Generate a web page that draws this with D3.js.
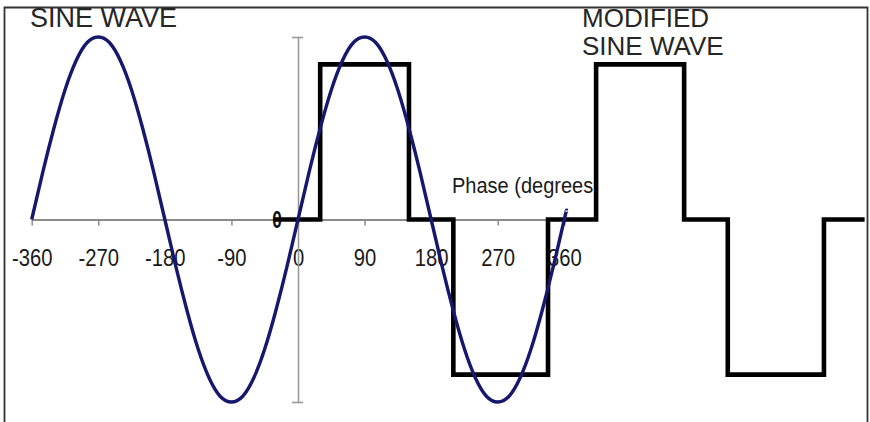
<!DOCTYPE html>
<html>
<head>
<meta charset="utf-8">
<script src="https://cdn.jsdelivr.net/npm/d3@7"></script>
<style>
  html, body { margin: 0; padding: 0; background: #fff; }
  svg { display: block; }
  text { font-family: "Liberation Sans", Arial, sans-serif; }
</style>
</head>
<body>
<svg id="chart" width="870" height="422"></svg>
<script>
// ---- data ----
const xTickValues = [-360, -270, -180, -90, 0, 90, 180, 270, 360];
const sineDegrees = [-360,-345,-330,-315,-300,-285,-270,-255,-240,-225,-210,-195,-180,-165,-150,-135,-120,-105,-90,-75,-60,-45,-30,-15,0,15,30,45,60,75,90,105,120,135,150,165,180,195,210,225,240,255,270,285,300,315,330,345,360,363];
const sineValues  = [0,0.26,0.5,0.71,0.87,0.97,1,0.97,0.87,0.71,0.5,0.26,0,-0.26,-0.5,-0.71,-0.87,-0.97,-1,-0.97,-0.87,-0.71,-0.5,-0.26,0,0.26,0.5,0.71,0.87,0.97,1,0.97,0.87,0.71,0.5,0.26,0,-0.26,-0.5,-0.71,-0.87,-0.97,-1,-0.97,-0.87,-0.71,-0.5,-0.26,0,0.05];
const stepDegrees = [-33, 30, 150, 210, 338, 403, 522, 581, 711, 766];
const stepLevels  = [0, 0.85, 0, -0.85, 0, 0.85, 0, -0.85, 0, 0];
const titleLeft = "SINE WAVE";
const titleRight = ["MODIFIED", "SINE WAVE"];
const axisTitle = "Phase (degrees";
const yZeroLabel = "0";

// ---- scales ----
const svg = d3.select("#chart");
const x = d3.scaleLinear().domain([-360, 360]).range([31.7, 564.3]);
const y = d3.scaleLinear().domain([-1, 1]).range([402, 37]);

// frame (left, top, right)
svg.append("path")
  .attr("d", "M4.5,422 L4.5,7.5 L867.5,7.5 L867.5,422")
  .attr("fill", "none").attr("stroke", "#333").attr("stroke-width", 1.8);

// titles
svg.append("text").attr("x", 30).attr("y", 27).attr("font-size", 27)
  .attr("fill", "#262626").text(titleLeft);
svg.append("text").attr("x", 582).attr("y", 27).attr("font-size", 26)
  .attr("fill", "#262626").text(titleRight[0]);
svg.append("text").attr("x", 582).attr("y", 55).attr("font-size", 26)
  .attr("fill", "#262626").text(titleRight[1]);

// x axis
const xAxis = svg.append("g")
  .attr("transform", `translate(0,${y(0)})`)
  .call(d3.axisBottom(x).tickValues(xTickValues).tickFormat(d => String(d))
    .tickSize(6).tickSizeOuter(0));
xAxis.select(".domain").attr("stroke", "#8a8a8a").attr("stroke-width", 2);
xAxis.selectAll(".tick line").attr("stroke", "#8a8a8a").attr("stroke-width", 1.5);
xAxis.selectAll(".tick text")
  .attr("y", 47).attr("dy", 0)
  .attr("font-size", 23).attr("fill", "#1a1a1a")
  .attr("font-family", "'Liberation Sans', Arial, sans-serif")
  .attr("transform", "scale(0.88,1)");

// y axis
const yAxis = svg.append("g")
  .attr("transform", `translate(${x(0)},0)`)
  .call(d3.axisLeft(y).tickValues([-1, 1]).tickFormat("").tickSize(6).tickSizeOuter(0));
yAxis.select(".domain").attr("stroke", "#9a9a9a").attr("stroke-width", 1.6);
yAxis.selectAll(".tick line").attr("x1", 5).attr("x2", -6)
  .attr("stroke", "#9a9a9a").attr("stroke-width", 1.6);

// y zero label
svg.append("text")
  .attr("transform", `translate(${x(0) - 21},${y(0) + 8}) scale(0.75,1)`)
  .attr("text-anchor", "middle").attr("font-size", 23).attr("fill", "#111")
  .attr("font-weight", "bold")
  .text(yZeroLabel);

// axis title
svg.append("text")
  .attr("transform", `translate(452,193) scale(0.91,1)`)
  .attr("font-size", 22).attr("fill", "#1a1a1a")
  .text(axisTitle);

// modified sine wave (square steps)
const stepData = stepDegrees.map((d, i) => ({ d, v: stepLevels[i] }));
svg.append("path")
  .datum(stepData)
  .attr("fill", "none").attr("stroke", "#000").attr("stroke-width", 4.6)
  .attr("stroke-linejoin", "miter")
  .attr("d", d3.line().x(p => x(p.d)).y(p => y(p.v)).curve(d3.curveStepAfter));

// sine wave
const sineData = sineDegrees.map((d, i) => ({ d, v: sineValues[i] }));
svg.append("path")
  .datum(sineData)
  .attr("fill", "none").attr("stroke", "#16186e").attr("stroke-width", 3.4)
  .attr("d", d3.line().x(p => x(p.d)).y(p => y(p.v)).curve(d3.curveNatural));
</script>
</body>
</html>
